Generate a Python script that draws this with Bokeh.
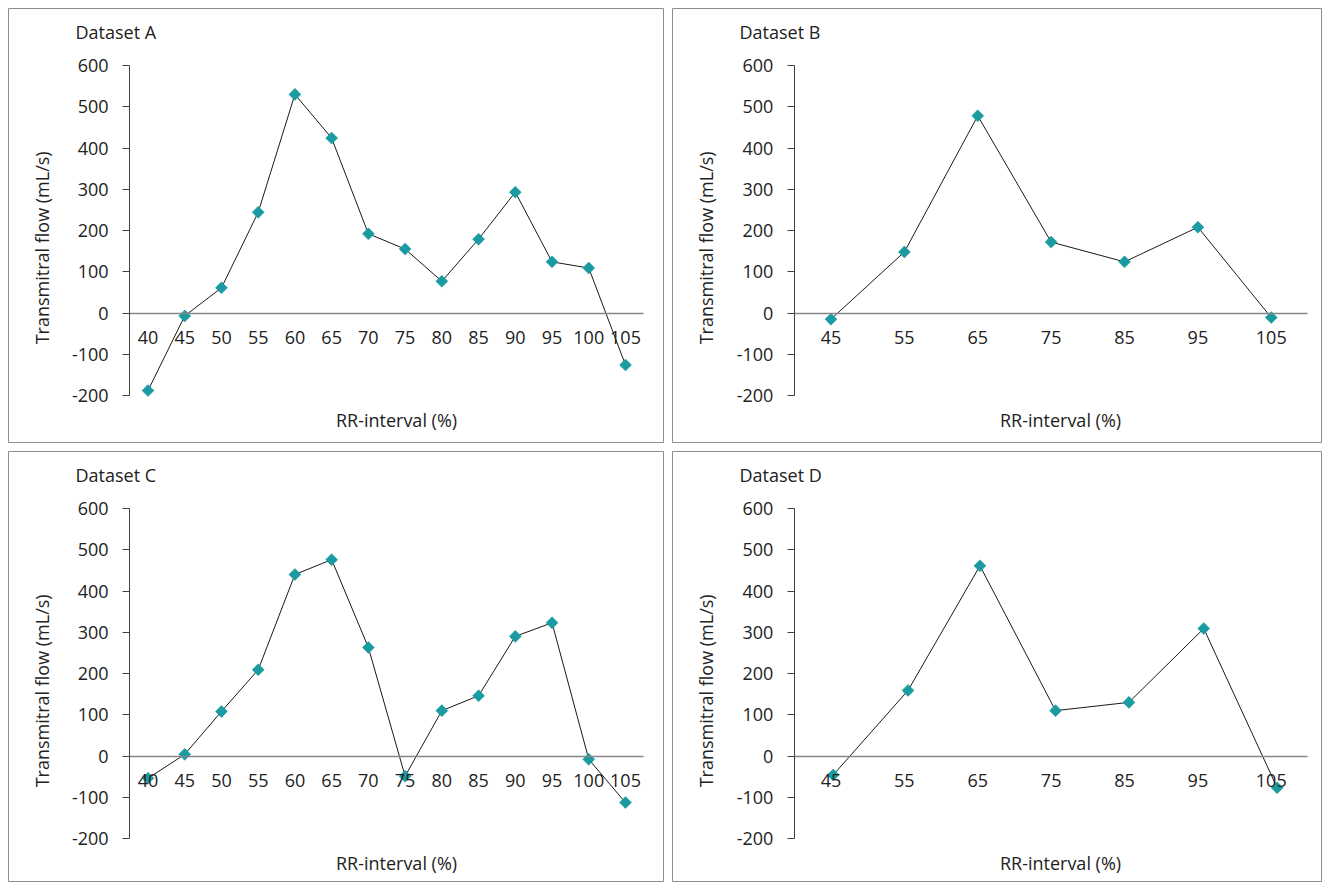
import numpy as np
from bokeh.plotting import figure
from bokeh.models import FixedTicker, Label, Range1d
from bokeh.layouts import column, row
from bokeh.embed import file_html
from bokeh.resources import INLINE

# ---------------- data ----------------
titles = ["Dataset A", "Dataset B", "Dataset C", "Dataset D"]
x_label = "RR-interval (%)"
y_label = "Transmitral flow  (mL/s)"
y_ticks = [-200, -100, 0, 100, 200, 300, 400, 500, 600]

ticks_ac = [40, 45, 50, 55, 60, 65, 70, 75, 80, 85, 90, 95, 100, 105]
ticks_bd = [45, 55, 65, 75, 85, 95, 105]

rr_a = [40, 45, 50, 55, 60, 65, 70, 75, 80, 85, 90, 95, 100, 105]
flow_a = [-188, -7, 61, 244, 530, 424, 192, 155, 77, 179, 293, 124, 109, -126]

rr_b = [45, 55, 65, 75, 85, 95, 105]
flow_b = [-15, 148, 478, 172, 124, 208, -11]

rr_c = [40, 45, 50, 55, 60, 65, 70, 75, 80, 85, 90, 95, 100, 105]
flow_c = [-54, 4, 108, 209, 440, 476, 263, -49, 110, 146, 290, 323, -8, -113]

rr_d = [45.3, 55.5, 65.3, 75.6, 85.6, 95.8, 105.8]
flow_d = [-46, 159, 461, 110, 130, 309, -77]

# ---------------- style ----------------
FONT = "Open Sans"
TXT = "#222222"
FS = "18px"
MARK = "#1a9ba1"
SY = 0.4125  # px per flow unit


def make_panel(title, rr, flow, ticks, W, H, left, top, first_px, sx):
    x_start = ticks[0] - (first_px - left) / sx
    x_end = x_start + W / sx
    y_top = 600 + 57 / SY
    y_bot = y_top - H / SY

    def X(px):
        return x_start + (px - left) / sx

    def Y(py):
        return y_top - (py - top) / SY

    p = figure(width=W, height=H, output_backend="svg", toolbar_location=None,
               x_range=Range1d(x_start, x_end), y_range=Range1d(y_bot, y_top),
               min_border=0, min_border_left=0, min_border_right=0,
               min_border_top=0, min_border_bottom=0,
               x_axis_location="below", y_axis_location="left")
    p.background_fill_color = "white"
    p.border_fill_color = "white"
    p.outline_line_color = "#8c8c8c"
    p.outline_line_width = 1
    p.xgrid.visible = False
    p.ygrid.visible = False

    half = (ticks[1] - ticks[0]) / 2.0
    xa = p.xaxis[0]
    xa.fixed_location = 0
    xa.bounds = (ticks[0] - half, ticks[-1] + half)
    xa.ticker = FixedTicker(ticks=ticks)
    xa.major_tick_out = 0
    xa.major_tick_in = 0
    xa.minor_tick_out = 0
    xa.minor_tick_in = 0
    xa.axis_line_color = "#868686"
    xa.axis_line_width = 1.3
    xa.major_label_text_font = FONT
    xa.major_label_text_font_size = FS
    xa.major_label_text_color = TXT
    xa.major_label_standoff = 18

    ya = p.yaxis[0]
    ya.fixed_location = ticks[0] - half
    ya.bounds = (-200, 600)
    ya.ticker = FixedTicker(ticks=y_ticks)
    ya.major_label_overrides = {t: str(t) for t in y_ticks}
    ya.major_tick_out = 7
    ya.major_tick_in = 0
    ya.minor_tick_out = 0
    ya.minor_tick_in = 0
    ya.axis_line_color = "#404040"
    ya.major_tick_line_color = "#404040"
    ya.major_label_text_font = FONT
    ya.major_label_text_font_size = FS
    ya.major_label_text_color = TXT
    ya.major_label_standoff = 14

    p.line(rr, flow, line_color="#1a1a1a", line_width=1)
    p.scatter(rr, flow, marker="square", size=8.5, angle=np.pi / 4,
              fill_color=MARK, line_color=MARK, line_width=0.5)

    p.add_layout(Label(x=X(left + 67), y=Y(top + 23), text=title,
                       text_font=FONT, text_font_size=FS, text_color=TXT,
                       text_align="left", text_baseline="middle"))
    p.add_layout(Label(x=X(left + 33), y=Y(top + 237), text=y_label,
                       angle=np.pi / 2, text_font=FONT, text_font_size=FS,
                       text_color=TXT, text_align="center", text_baseline="middle"))
    p.add_layout(Label(x=X(left + 388), y=Y(top + 411), text=x_label,
                       text_font=FONT, text_font_size=FS, text_color=TXT,
                       text_align="center", text_baseline="middle"))
    return p


pa = make_panel(titles[0], rr_a, flow_a, ticks_ac, 656, 435, 8, 8, 147.5, 7.346)
pb = make_panel(titles[1], rr_b, flow_b, ticks_bd, 650, 435, 672, 8, 830.5, 7.338)
pc = make_panel(titles[2], rr_c, flow_c, ticks_ac, 656, 431, 8, 451, 147.5, 7.346)
pd = make_panel(titles[3], rr_d, flow_d, ticks_bd, 650, 431, 672, 451, 830.5, 7.338)

layout = column(row(pa, pb, spacing=8), row(pc, pd, spacing=8), spacing=8,
                margin=(8, 0, 0, 8))

open("out.html", "w").write(file_html(layout, INLINE))
